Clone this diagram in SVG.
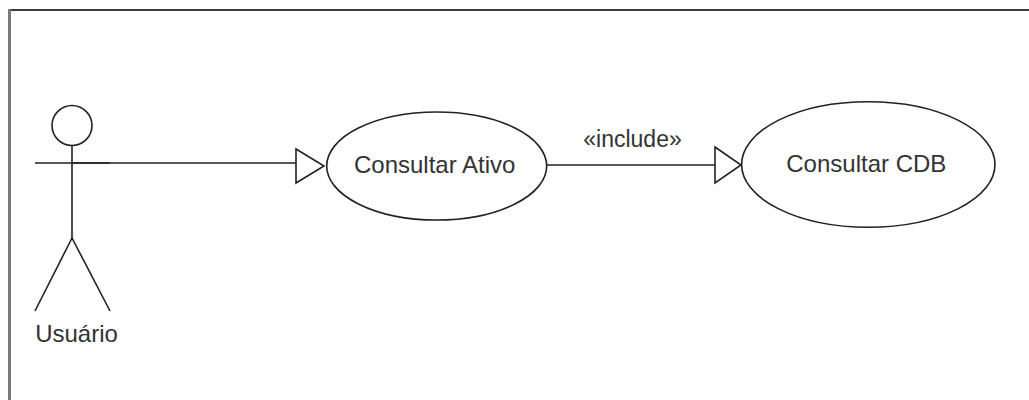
<svg xmlns="http://www.w3.org/2000/svg" width="1029" height="400" viewBox="0 0 1029 400">
  <style>
    .ln { fill: none; stroke: #222; stroke-width: 1.6; }
    .uc { fill: #fefefe; stroke: #222; stroke-width: 1.6; }
    .head { fill: #fefefe; stroke: #222; stroke-width: 1.6; }
    .lbl { font-family: "Liberation Sans", Arial, sans-serif; font-size: 24px; fill: #333; }
    .stereo { font-family: "Liberation Sans", Arial, sans-serif; font-size: 23px; fill: #333; }
  </style>

  <!-- canvas and frame -->
  <rect x="0" y="0" width="1029" height="400" fill="#fefefe"/>
  <line x1="9" y1="10" x2="1029" y2="10" stroke="#3c3c3c" stroke-width="2.2"/>
  <line x1="9.5" y1="9" x2="9.5" y2="400" stroke="#7a7a7a" stroke-width="3"/>

  <!-- connectors -->
  <g id="connectors">
    <g id="assoc-usuario-ativo">
      <line class="ln" x1="72" y1="163" x2="296" y2="163"/>
      <polygon class="uc" points="296,149 324,166 296,183"/>
    </g>
    <g id="include-ativo-cdb">
      <line class="ln" x1="547" y1="165" x2="715" y2="165"/>
      <polygon class="uc" points="715,147 741,165 715,183"/>
      <text class="stereo" x="632.5" y="147" text-anchor="middle">«include»</text>
    </g>
  </g>

  <!-- actor -->
  <g id="actor-usuario">
    <circle class="head" cx="72" cy="125.5" r="20"/>
    <line class="ln" x1="72" y1="145.5" x2="72" y2="238"/>
    <line class="ln" x1="35" y1="163" x2="110" y2="163"/>
    <line class="ln" x1="72" y1="238" x2="35" y2="311"/>
    <line class="ln" x1="72" y1="238" x2="110" y2="311"/>
    <text class="lbl" x="76.5" y="342" text-anchor="middle">Usuário</text>
  </g>

  <!-- use cases -->
  <g id="uc-consultar-ativo">
    <ellipse class="uc" cx="436.7" cy="166" rx="110" ry="54"/>
    <text class="lbl" x="434.7" y="173" text-anchor="middle">Consultar Ativo</text>
  </g>

  <g id="uc-consultar-cdb">
    <ellipse class="uc" cx="868.3" cy="164.5" rx="126.7" ry="62.8"/>
    <text class="lbl" x="866.3" y="172" text-anchor="middle">Consultar CDB</text>
  </g>
</svg>
